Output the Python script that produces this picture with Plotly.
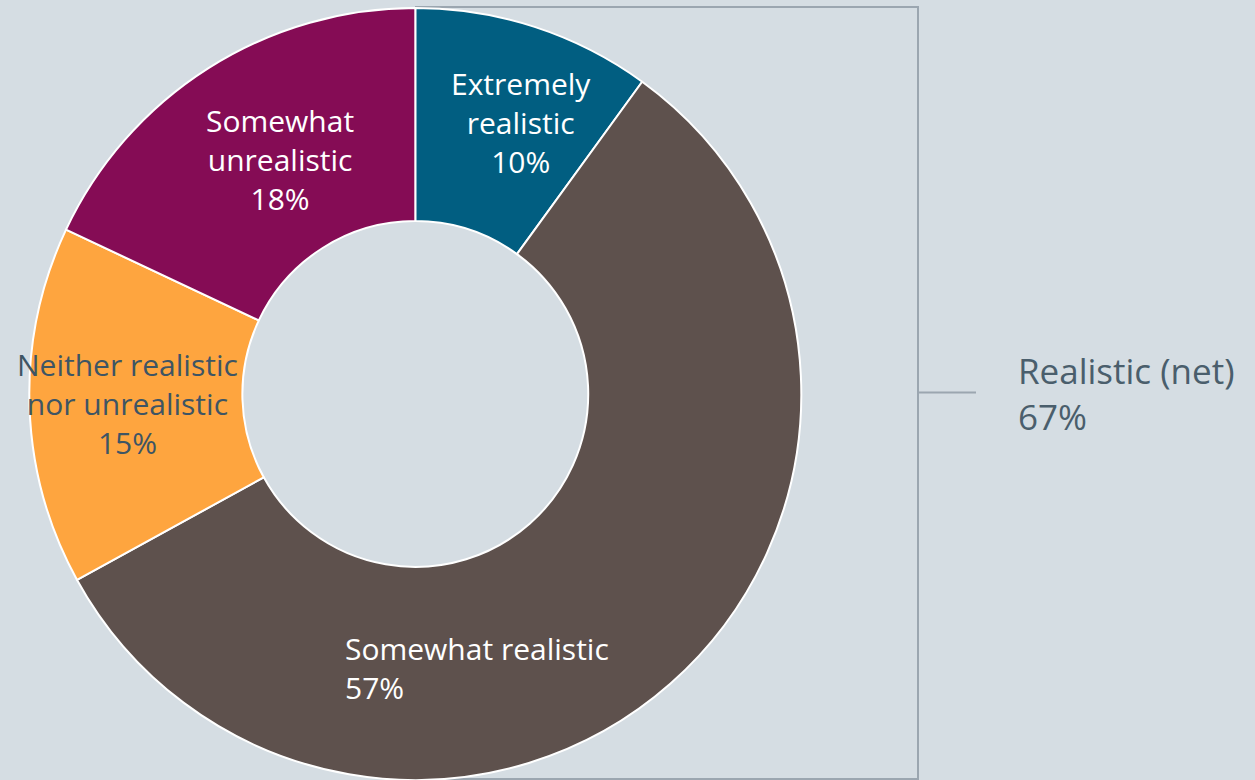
import plotly.graph_objects as go

# ---- data ----
categories = ["Extremely realistic", "Somewhat realistic",
              "Neither realistic nor unrealistic", "Somewhat unrealistic"]
label_lines = ["Extremely<br>realistic", "Somewhat realistic",
               "Neither realistic<br>nor unrealistic", "Somewhat<br>unrealistic"]
values = [10, 57, 15, 18]
net_label = "Realistic (net)"
net_value = 67

# ---- style ----
colors = ["#015e81", "#5e514d", "#fea53f", "#850c55"]
text_colors = ["#ffffff", "#ffffff", "#3e5564", "#ffffff"]
bg = "#d5dde3"
W, H = 1255, 780
FONT = "Open Sans"

def px(x):
    return x / W

def py(y):
    return 1 - y / H

# label anchor positions (pixels) and alignment
label_pos = [(521, 122, "center"), (343, 668, "left"), (127, 403, "center"), (280, 160, "center")]

cx, cy, r = 415.3, 394, 386

fig = go.Figure(go.Pie(
    labels=categories,
    values=values,
    sort=False,
    direction="clockwise",
    rotation=0,
    hole=0.448,
    marker=dict(colors=colors, line=dict(color="#ffffff", width=2)),
    textinfo="none",
    hoverinfo="label+percent",
    showlegend=False,
    domain=dict(x=[px(cx - r), px(cx + r)], y=[py(cy + r), py(cy - r)]),
))

annotations = []
for lab, v, (x, y, al), tc in zip(label_lines, values, label_pos, text_colors):
    annotations.append(dict(
        x=px(x), y=py(y), xref="paper", yref="paper",
        xanchor="left" if al == "left" else "center", yanchor="middle",
        align=al, showarrow=False,
        text=f"{lab}<br>{v}%",
        font=dict(family=FONT, size=30, color=tc),
    ))
annotations.append(dict(
    x=px(1016), y=py(393), xref="paper", yref="paper",
    xanchor="left", yanchor="middle", align="left", showarrow=False,
    text=f"{net_label}<br>{net_value}%",
    font=dict(family=FONT, size=35, color="#4a5e6c"),
))

line_col = "#9ba6b0"
shapes = [
    dict(type="path", xref="paper", yref="paper", layer="below",
         path=f"M {px(415)} {py(7)} L {px(918)} {py(7)} L {px(918)} {py(779)} L {px(415)} {py(779)}",
         line=dict(color=line_col, width=2)),
    dict(type="line", xref="paper", yref="paper", layer="below",
         x0=px(918), y0=py(392.5), x1=px(976), y1=py(392.5),
         line=dict(color=line_col, width=2)),
]

fig.update_layout(
    width=W, height=H,
    margin=dict(l=0, r=0, t=0, b=0),
    paper_bgcolor=bg, plot_bgcolor=bg,
    annotations=annotations,
    shapes=shapes,
)

fig.write_html(
    "out.html",
    config={"displayModeBar": False},
    post_script=(
        "document.body.style.margin='0';"
        "document.body.style.padding='0';"
        "document.body.style.overflow='hidden';"
        f"document.body.style.background='{bg}';"
    ),
)
